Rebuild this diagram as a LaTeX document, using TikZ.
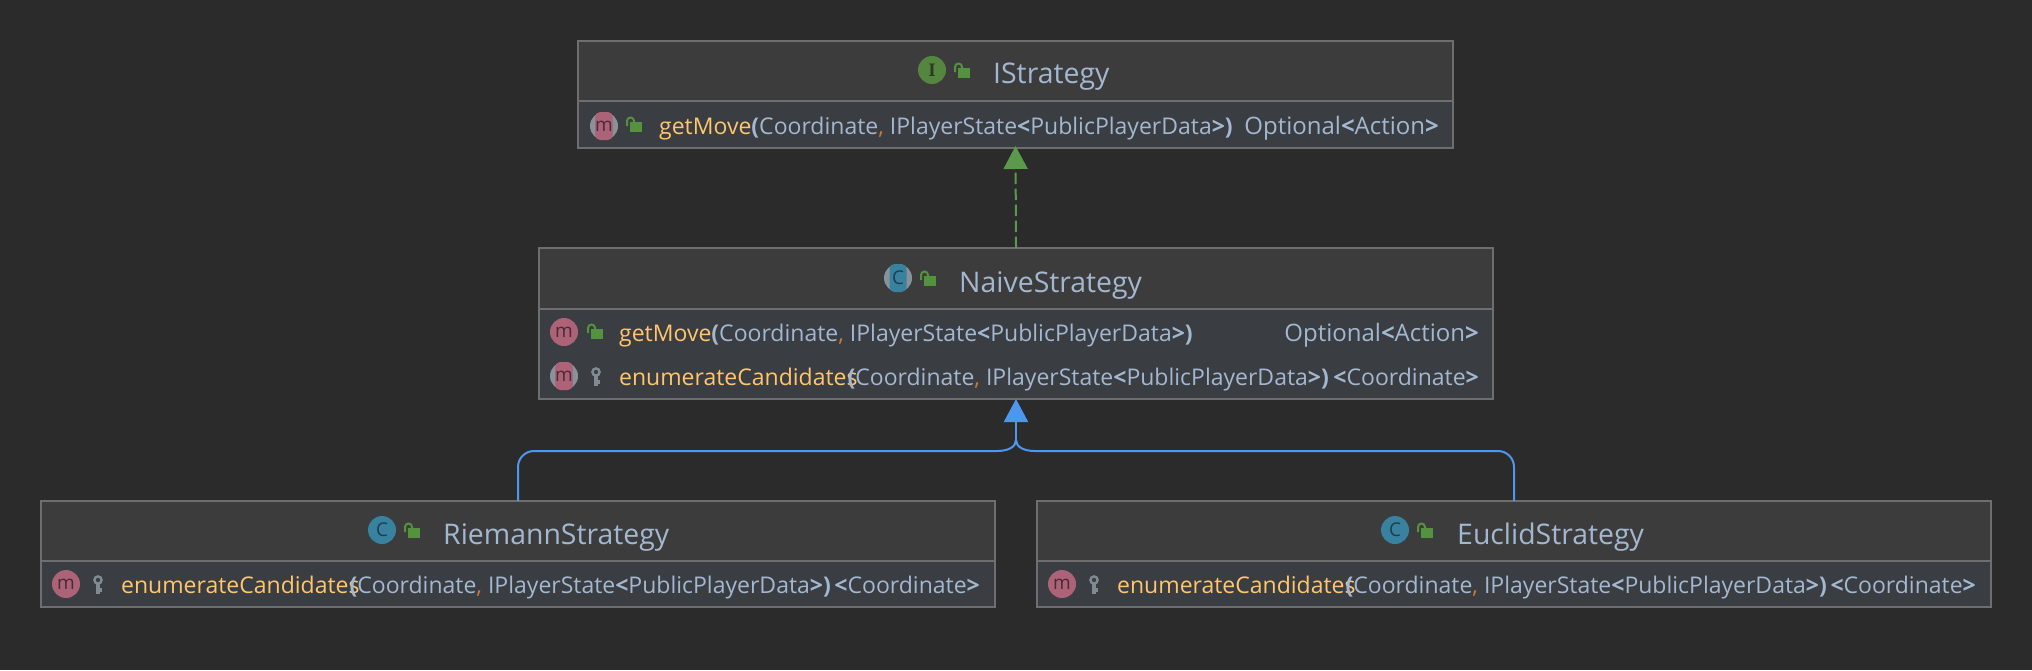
\documentclass[tikz,border=0pt]{standalone}
\usepackage{fontspec}
\setmainfont{Open Sans}
\usetikzlibrary{arrows.meta}

\definecolor{canvasbg}{HTML}{2B2B2B}
\definecolor{headbg}{HTML}{3C3C3C}
\definecolor{rowbg}{HTML}{3A3D41}
\definecolor{boxline}{HTML}{6E6E6E}
\definecolor{plain}{HTML}{A3B8D0}
\definecolor{method}{HTML}{FFC66D}
\definecolor{comma}{HTML}{CC7832}
\definecolor{lockgreen}{HTML}{54923F}
\definecolor{keygray}{HTML}{7F8B91}
\definecolor{methodred}{HTML}{AD6377}
\definecolor{classblue}{HTML}{38819F}
\definecolor{ifacegreen}{HTML}{54863F}
\definecolor{ringgray}{HTML}{87939A}
\definecolor{implgreen}{HTML}{5A9A4A}
\definecolor{extblue}{HTML}{4E97EE}
\definecolor{letterred}{HTML}{4A2A33}
\definecolor{letterblue}{HTML}{1F3F4E}
\definecolor{lettergreen}{HTML}{2A3A28}

\newcommand{\sigtext}[2]{{\color{method}#1}\kern#2{\bfseries(}Coordinate{\color{comma},} IPlayerState{\bfseries<}PublicPlayerData{\bfseries>)}}

\tikzset{
  umlbox/.style={draw=boxline,line width=2pt,fill=rowbg,inner sep=0pt,outer sep=0pt,anchor=north west},
  headbox/.style={draw=boxline,line width=2pt,fill=headbg,inner sep=0pt,outer sep=0pt,anchor=north west},
  title/.style={anchor=base west,inner sep=0pt,text=plain,font=\fontsize{28.4}{32}\selectfont},
  member/.style={anchor=base west,inner sep=0pt,text=plain,font=\fontsize{23}{27}\selectfont},
  result/.style={member,anchor=base east},
  icon/.style={circle,minimum size=28pt,inner sep=0pt,font=\fontsize{19}{22}\selectfont},
  micon/.style={icon,fill=methodred,text=letterred},
  cicon/.style={icon,fill=classblue,text=letterblue},
  iicon/.style={icon,fill=ifacegreen,text=lettergreen},
  ringbase/.style={circle,minimum size=28pt,inner sep=0pt,fill=ringgray},
  ringtop/.style={rectangle,rounded corners=5pt,minimum width=17pt,minimum height=28pt,inner sep=0pt,fill=#1,font=\fontsize{19}{22}\selectfont},
  implements/.style={draw=implgreen,line width=2pt,dash pattern=on 11.5pt off 4.5pt,
    -{Triangle[length=23pt,width=24pt,fill=implgreen]}},
  extends/.style={draw=extblue,line width=2pt},
  extendshead/.style={extends,-{Triangle[length=23pt,width=24pt,fill=extblue]}},
  openlock/.pic={
    \fill[lockgreen] (4,-5) rectangle (16,5);
    \draw[lockgreen,line width=2pt] (1,-1) -- (1,-6) arc[start angle=180,end angle=0,x radius=3.5,y radius=-3.5] -- (8,-5);
  },
  keyicon/.pic={
    \draw[keygray,line width=2.4pt] (0,-5) circle[radius=3.6];
    \draw[keygray,line width=3.4pt] (0,-1) -- (0,9) (0,5) -- (3.5,5);
  }
}

\begin{document}
\begin{tikzpicture}[x=1pt,y=-1pt]
  \useasboundingbox[fill=canvasbg] (0,0) rectangle (2032,670);

  % class boxes
  \node[umlbox,minimum width=875pt,minimum height=107pt] (istrategy) at (578,41) {};
  \node[headbox,minimum width=875pt,minimum height=60pt] (ihead) at (578,41) {};
  \node[umlbox,minimum width=954pt,minimum height=151pt] (naive) at (539,248) {};
  \node[headbox,minimum width=954pt,minimum height=61pt] (nhead) at (539,248) {};
  \node[umlbox,minimum width=954pt,minimum height=106pt] (riemann) at (41,501) {};
  \node[headbox,minimum width=954pt,minimum height=60pt] (rhead) at (41,501) {};
  \node[umlbox,minimum width=954pt,minimum height=106pt] (euclid) at (1037,501) {};
  \node[headbox,minimum width=954pt,minimum height=60pt] (ehead) at (1037,501) {};

  % headers
  \node[iicon] (iicn) at (932,70) {\fontspec{Liberation Serif}\bfseries I};
  \pic at (954,73) {openlock};
  \node[title] (ititle) at (993,83) {IStrategy};

  \node[ringbase] (nicnbase) at (898,278) {};
  \node[ringtop=classblue,text=letterblue] (nicn) at (898,278) {C};
  \pic at (920,281) {openlock};
  \node[title] (ntitle) at (959,292) {NaiveStrategy};

  \node[cicon] (ricn) at (382,530) {C};
  \pic at (404,533) {openlock};
  \node[title] (rtitle) at (443,544) {RiemannStrategy};

  \node[cicon] (eicn) at (1395,530) {C};
  \pic at (1417,533) {openlock};
  \node[title] (etitle) at (1457,544) {EuclidStrategy};

  % members
  \node[ringbase] (imbase) at (604,126) {};
  \node[ringtop=methodred,text=letterred] (imicn) at (604,126) {m};
  \pic at (626,127) {openlock};
  \node[member] (igetmove) at (659,134) {\sigtext{getMove}{0pt}};
  \node[result,font=\fontsize{24}{27}\selectfont] (iopt) at (1439,134) {Optional{\bfseries<}Action{\bfseries>}};

  \node[micon] (nmicn) at (564,332) {m};
  \pic at (587,334) {openlock};
  \node[member] (ngetmove) at (619,341) {\sigtext{getMove}{0pt}};
  \node[result,font=\fontsize{24}{27}\selectfont] (nopt) at (1479,341) {Optional{\bfseries<}Action{\bfseries>}};

  \node[ringbase] (ncbase) at (564,376) {};
  \node[ringtop=methodred,text=letterred] (ncicn) at (564,376) {m};
  \pic at (596,377) {keyicon};
  \node[member] (nenum) at (619,385) {\sigtext{enumerateCandidates}{-10pt}};
  \node[result] (nres) at (1479,385) {{\bfseries<}Coordinate{\bfseries>}};

  \node[micon] (rmicn) at (66,584) {m};
  \pic at (98,585) {keyicon};
  \node[member] (renum) at (121,593) {\sigtext{enumerateCandidates}{-10pt}};
  \node[result] (rres) at (980,593) {{\bfseries<}Coordinate{\bfseries>}};

  \node[micon] (emicn) at (1062,584) {m};
  \pic at (1094,585) {keyicon};
  \node[member] (eenum) at (1117,593) {\sigtext{enumerateCandidates}{-10pt}};
  \node[result] (eres) at (1976,593) {{\bfseries<}Coordinate{\bfseries>}};

  % connectors
  \coordinate (merge) at (1016,440);
  \coordinate (leftrun) at (997,451);
  \coordinate (rightrun) at (1035,451);
  \draw[implements] (nhead.north) -- ([yshift=2pt]istrategy.south);
  \draw[extends,rounded corners=16pt] (rhead.north) |- (leftrun);
  \draw[extends,rounded corners=16pt] (ehead.north) |- (rightrun);
  \draw[extends] (leftrun) .. controls (1008,451) and (1016,447) .. (merge);
  \draw[extends] (rightrun) .. controls (1024,451) and (1016,447) .. (merge);
  \draw[extendshead] (merge) -- (naive.south);
\end{tikzpicture}
\end{document}
